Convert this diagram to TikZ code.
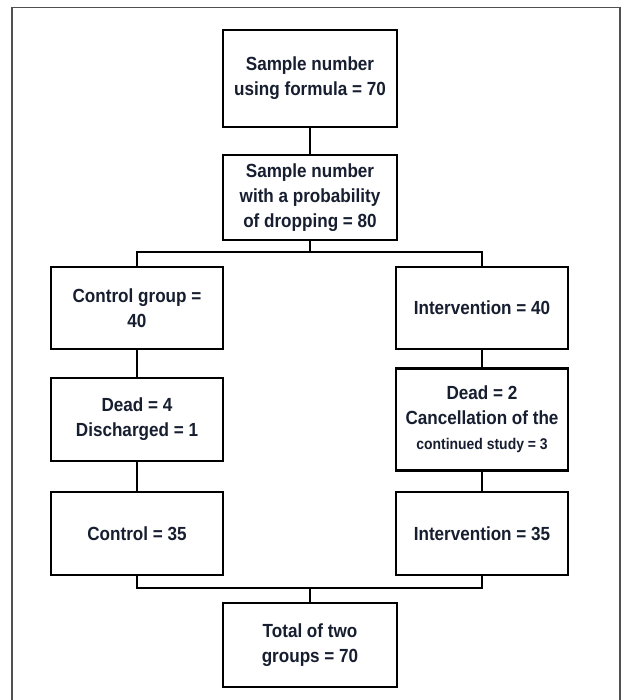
\documentclass[tikz,border=0pt]{standalone}
\usepackage{fontspec}
\setmainfont[FakeStretch=0.9]{Liberation Sans}
\begin{document}
\begin{tikzpicture}[x=1pt,y=-1pt,
  box/.style={draw=black,line width=2.2pt,rectangle,inner sep=0pt,align=center,
    text=txtc,font=\bfseries\fontsize{19}{25}\selectfont},
  link/.style={draw=black,line width=1.8pt},
  frameline/.style={draw=framec,line width=1.8pt}]
\definecolor{txtc}{RGB}{22,30,48}
\definecolor{framec}{RGB}{80,80,80}
\useasboundingbox (0,0) rectangle (623,700);
\fill[white] (0,0) rectangle (623,700);
\draw[frameline] (12,700) -- (12,7.5) -- (620,7.5) -- (620,700);

\node[box,minimum width=174pt,minimum height=97pt] (b1) at (310,78.5)
  {Sample number\\using formula = 70};
\node[box,minimum width=174pt,minimum height=85pt] (b2) at (310,197.5)
  {Sample number\\with a probability\\of dropping = 80};
\node[box,minimum width=172pt,minimum height=82pt] (ctrl) at (137,308)
  {Control group =\\40};
\node[box,minimum width=172pt,minimum height=82pt] (int40) at (482,308)
  {Intervention = 40};
\node[box,minimum width=172pt,minimum height=83pt] (dead4) at (137,419.5)
  {Dead = 4\\Discharged = 1};
\node[box,minimum width=172pt,minimum height=102pt] (dead2) at (482,419.5)
  {Dead = 2\\Cancellation of the\\{\fontsize{15.5}{26}\selectfont continued study = 3}};
\node[box,minimum width=172pt,minimum height=83pt] (c35) at (137,533.5)
  {Control = 35};
\node[box,minimum width=172pt,minimum height=83pt] (i35) at (482,533.5)
  {Intervention = 35};
\node[box,minimum width=174pt,minimum height=84pt] (total) at (310,645)
  {Total of two\\groups = 70};

\coordinate (split) at (310,252);
\coordinate (merge) at (310,588);

\draw[link] (b1.south) -- (b2.north);
\draw[link] (b2.south) -- (split);
\draw[link] (split) -| (ctrl.north);
\draw[link] (split) -| (int40.north);
\draw[link] (ctrl.south) -- (dead4.north);
\draw[link] (int40.south) -- (dead2.north);
\draw[link] (dead4.south) -- (c35.north);
\draw[link] (dead2.south) -- (i35.north);
\draw[link] (c35.south) |- (merge);
\draw[link] (i35.south) |- (merge);
\draw[link] (merge) -- (total.north);
\end{tikzpicture}
\end{document}
